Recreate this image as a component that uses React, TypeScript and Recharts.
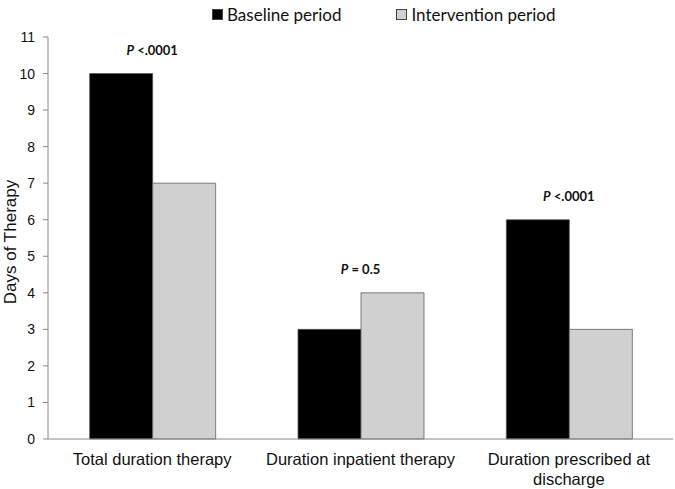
import React from "react";
import {
  BarChart,
  Bar,
  XAxis,
  YAxis,
  Legend,
  ReferenceDot,
  Text,
} from "recharts";

const categories = [
  "Total duration therapy",
  "Duration inpatient therapy",
  "Duration prescribed at discharge",
];
const baselineDays = [10, 3, 6];
const interventionDays = [7, 4, 3];
const pValueText = ["<.0001", "= 0.5", "<.0001"];
const yTicks = [0, 1, 2, 3, 4, 5, 6, 7, 8, 9, 10, 11];

const seriesNames = ["Baseline period", "Intervention period"];
const seriesColors = ["#000000", "#d0d0d0"];

const data = categories.map((name, i) => ({
  name,
  baseline: baselineDays[i],
  intervention: interventionDays[i],
}));

const axisFont = "'Liberation Sans', Arial, sans-serif";
const calibriLike = "Lato, 'Open Sans', sans-serif";

// wrapped category label under the x axis
const CategoryTick = (props: any) => {
  const { x, y, payload } = props;
  return (
    <Text
      x={x}
      y={y + 6}
      width={205}
      textAnchor="middle"
      verticalAnchor="start"
      lineHeight={20}
      fontSize={16.5}
      fontFamily={axisFont}
      fill="#111"
    >
      {payload.value}
    </Text>
  );
};

const YTitle = (props: any) => {
  const { viewBox } = props;
  const cx = 10;
  const cy = viewBox.y + viewBox.height / 2 + 4;
  return (
    <text
      x={cx}
      y={cy}
      transform={`rotate(-90 ${cx} ${cy})`}
      textAnchor="middle"
      dominantBaseline="central"
      fontSize={17}
      fontFamily={axisFont}
      fill="#111"
    >
      Days of Therapy
    </text>
  );
};

function pLabel(text: string) {
  return function (props: any) {
    const { viewBox } = props;
    const cx = viewBox.x + (viewBox.width || 0) / 2;
    const cy = viewBox.y + (viewBox.height || 0) / 2;
    return (
      <text
        x={cx}
        y={cy - 24}
        textAnchor="middle"
        dominantBaseline="central"
        fontSize={13}
        fontWeight={700}
        fontFamily={calibriLike}
        fill="#111"
      >
        <tspan fontStyle="italic">P</tspan>
        <tspan> {text}</tspan>
      </text>
    );
  };
}

const LegendContent = () => (
  <div
    style={{
      display: "flex",
      alignItems: "center",
      height: 20,
      paddingLeft: 212,
      fontFamily: calibriLike,
      fontSize: 17,
      color: "#111",
    }}
  >
    {seriesNames.map((name, i) => (
      <div
        key={name}
        style={{ display: "flex", alignItems: "center", marginRight: 55 }}
      >
        <span
          style={{
            display: "inline-block",
            width: 9,
            height: 9,
            background: seriesColors[i],
            border: "1px solid #444",
            marginRight: 4,
          }}
        />
        <span>{name}</span>
      </div>
    ))}
  </div>
);

export default function App() {
  return (
    <div style={{ position: "absolute", left: 0, top: 0, background: "#fff" }}>
      <BarChart
        width={675}
        height={489}
        data={data}
        margin={{ top: 17, right: 2, bottom: 0, left: 0 }}
        barCategoryGap="20%"
        barGap={0}
      >
        <Legend
          verticalAlign="top"
          align="left"
          content={LegendContent}
          wrapperStyle={{ top: 4, left: 0, width: 675, height: 20 }}
        />
        <XAxis
          dataKey="name"
          tickLine={false}
          axisLine={{ stroke: "#888" }}
          tick={CategoryTick}
          interval={0}
          height={50}
        />
        <YAxis
          width={48}
          domain={[0, 11]}
          ticks={yTicks}
          interval={0}
          tickSize={5}
          tickMargin={8}
          axisLine={{ stroke: "#888" }}
          tickLine={{ stroke: "#888" }}
          tick={{ fontSize: 14, fontFamily: axisFont, fill: "#111" }}
          label={<YTitle />}
        />
        <Bar
          dataKey="baseline"
          name={seriesNames[0]}
          fill={seriesColors[0]}
          stroke="#555"
          strokeWidth={0.75}
          isAnimationActive={false}
        />
        <Bar
          dataKey="intervention"
          name={seriesNames[1]}
          fill={seriesColors[1]}
          stroke="#555"
          strokeWidth={0.75}
          isAnimationActive={false}
        />
        {data.map((d, i) => (
          <ReferenceDot
            key={d.name}
            x={d.name}
            y={Math.max(d.baseline, d.intervention)}
            r={0}
            fill="none"
            stroke="none"
            label={pLabel(pValueText[i])}
          />
        ))}
      </BarChart>
    </div>
  );
}
